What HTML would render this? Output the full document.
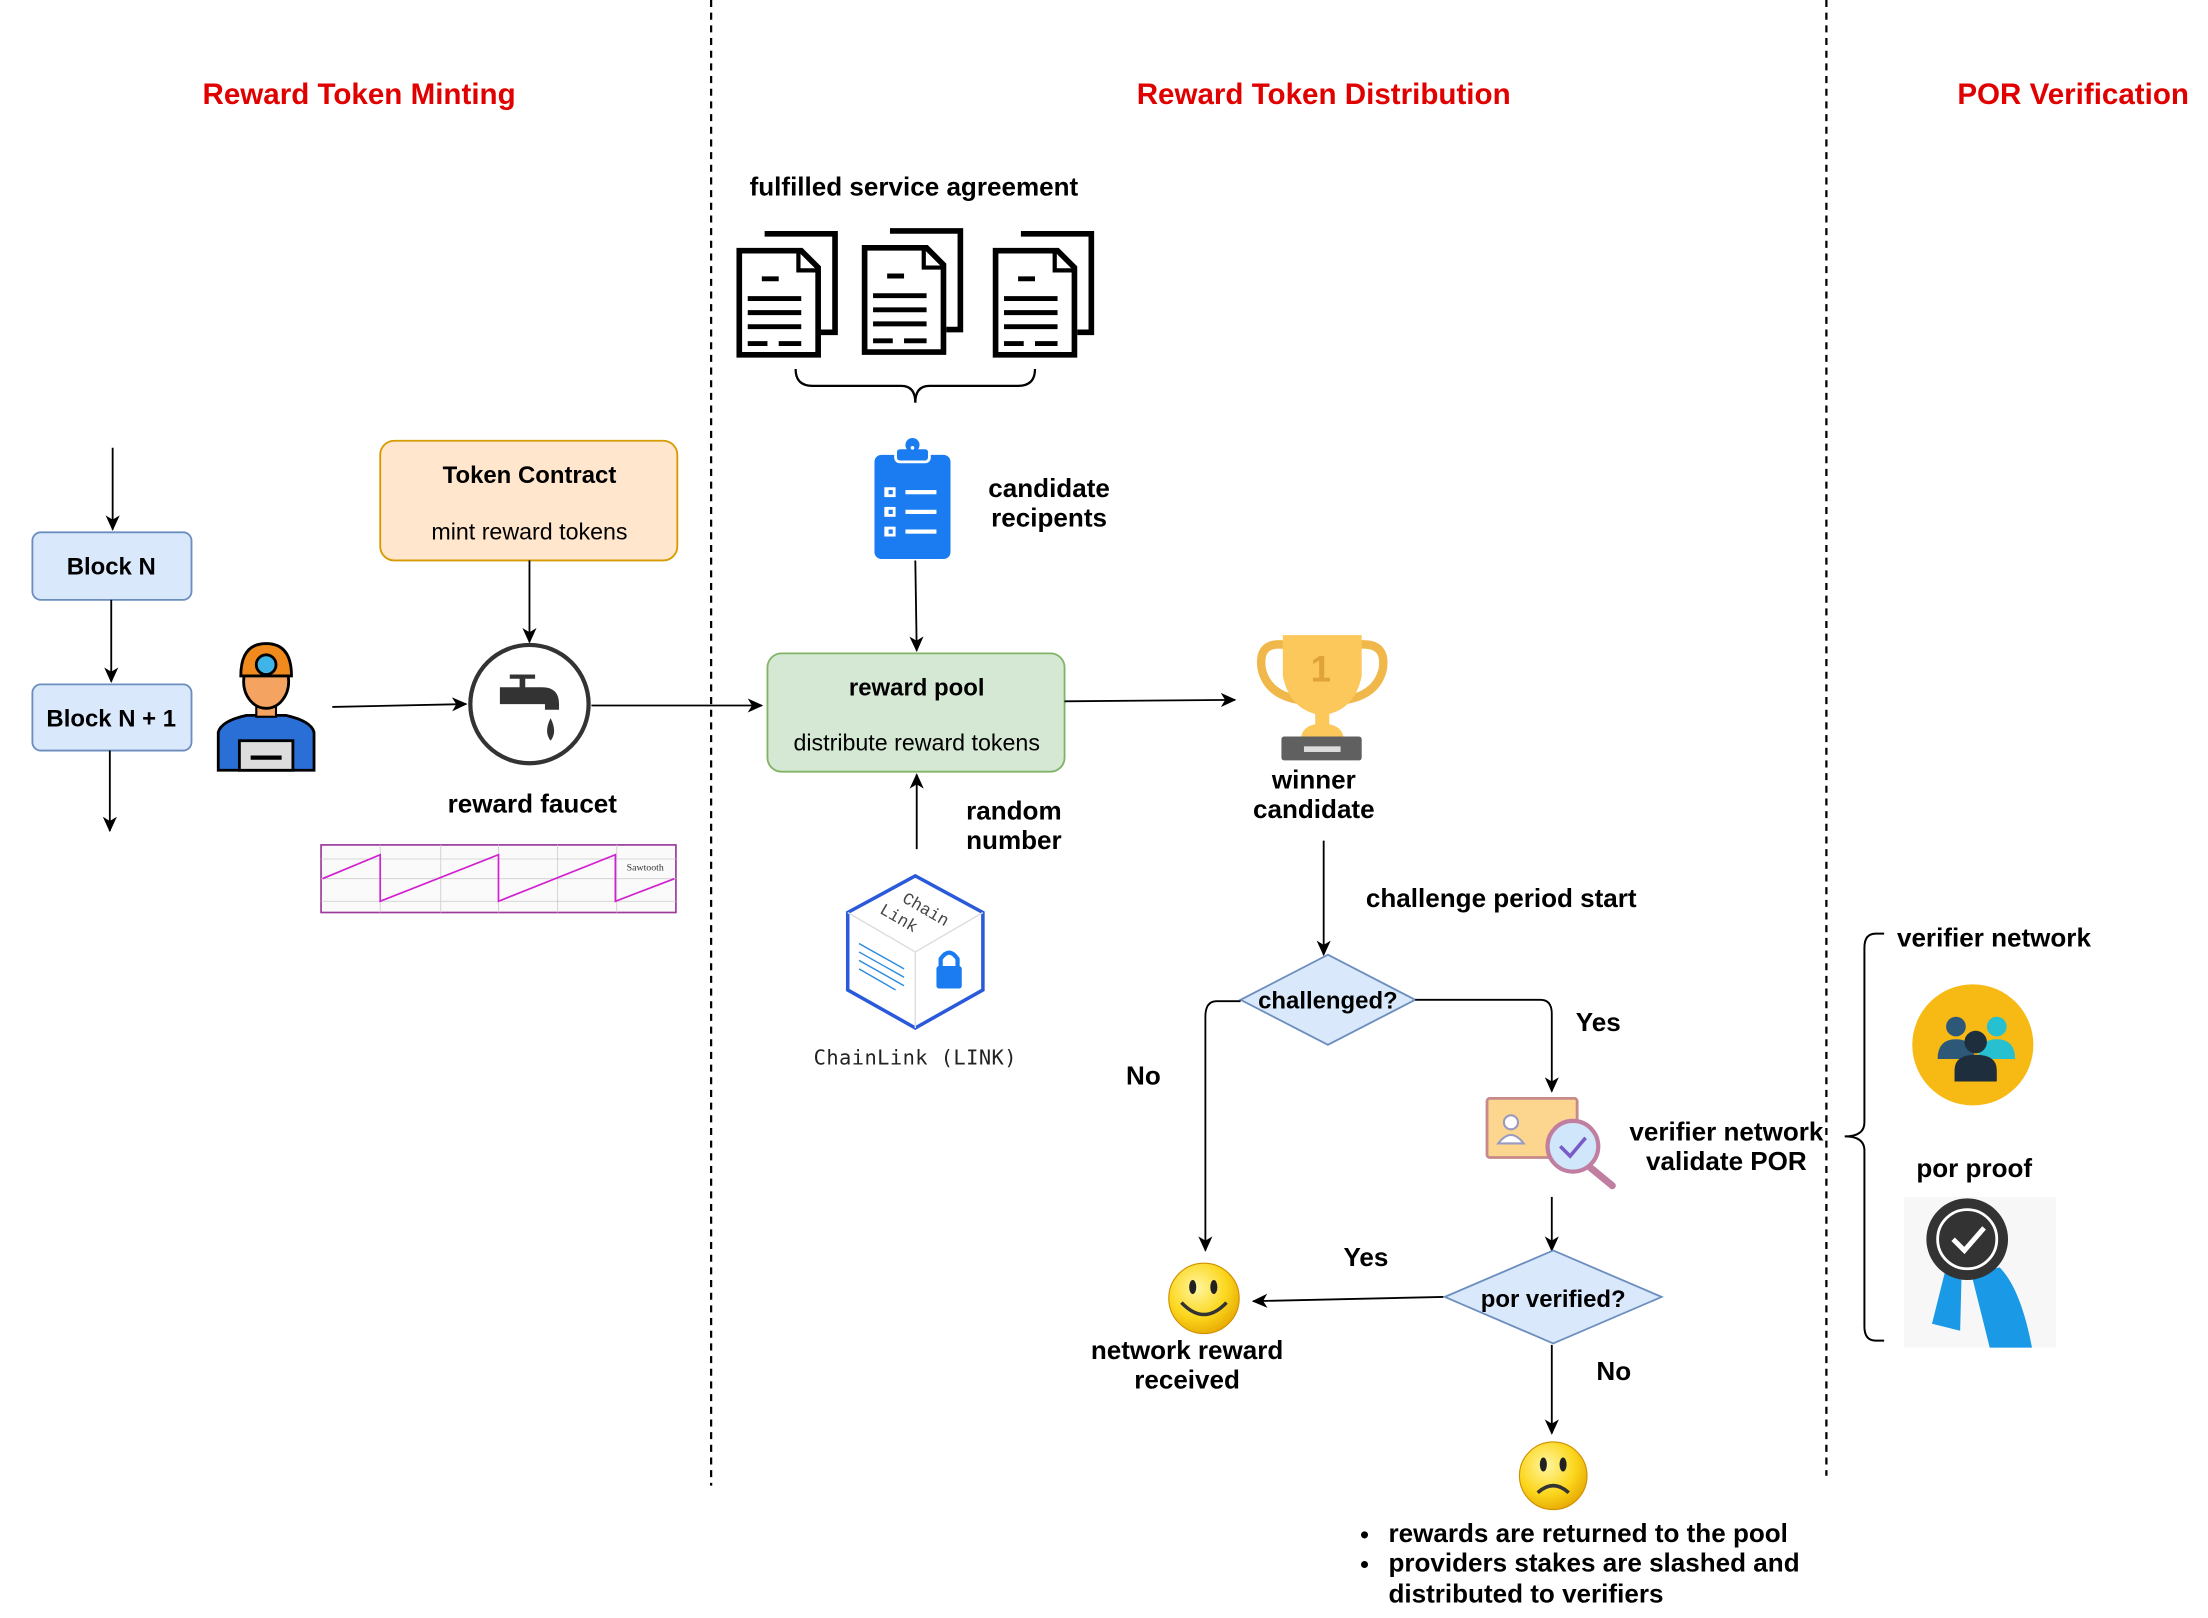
<!DOCTYPE html>
<html><head><meta charset="utf-8"><style>
html,body{margin:0;padding:0;background:#fff;}
svg{display:block;}
text{font-family:"Liberation Sans",Arial,sans-serif;}
.b{font-weight:bold;font-size:18.5px;fill:#000;}
.t{font-weight:bold;font-size:21px;fill:#e00000;}
.n{font-size:16.5px;fill:#000;}
</style></head><body>
<svg width="2208" height="1618" viewBox="0 0 1568 1149" preserveAspectRatio="none" xmlns="http://www.w3.org/2000/svg">
<defs>
<marker id="ar" markerWidth="12" markerHeight="12" refX="10" refY="6" orient="auto" markerUnits="userSpaceOnUse">
<path d="M0,1 L11,6 L0,11 L3,6 Z" fill="#000"/></marker>
<g id="doc">
<path d="M20,0 H70 V70 H60" fill="#fff" stroke="#000" stroke-width="4"/>
<path d="M2,12 H46 L58,24 V86 H2 Z" fill="#fff" stroke="#000" stroke-width="4"/>
<path d="M44,12 V26 H58" fill="none" stroke="#000" stroke-width="3"/>
<g stroke="#000" stroke-width="3.5"><line x1="18" y1="32" x2="30" y2="32"/><line x1="8" y1="46" x2="46" y2="46"/><line x1="8" y1="56" x2="46" y2="56"/><line x1="8" y1="66" x2="46" y2="66"/><line x1="8" y1="78" x2="22" y2="78"/><line x1="30" y1="78" x2="46" y2="78"/></g>
</g>
<radialGradient id="sm" cx="0.4" cy="0.35" r="0.7"><stop offset="0" stop-color="#fff6a0"/><stop offset="0.6" stop-color="#fcd71e"/><stop offset="1" stop-color="#e6a700"/></radialGradient>
</defs>
<rect width="1568" height="1149" fill="#fff"/>
<line x1="505" y1="0" x2="505" y2="1055" stroke="#000" stroke-width="1.6" stroke-dasharray="5,4"/>
<line x1="1297" y1="0" x2="1297" y2="1048" stroke="#000" stroke-width="1.6" stroke-dasharray="5,4"/>
<text class="t" x="255" y="74" text-anchor="middle">Reward Token Minting</text>
<text class="t" x="940" y="74" text-anchor="middle">Reward Token Distribution</text>
<text class="t" x="1390" y="74">POR Verification</text>

<line x1="80" y1="318" x2="80" y2="376" stroke="#000" stroke-width="1.3" marker-end="url(#ar)"/>
<rect x="23" y="378" width="113" height="48" rx="6" fill="#dae8fc" stroke="#6c8ebf" stroke-width="1.3"/>
<text class="b" x="79" y="408" text-anchor="middle" style="font-size:17px">Block N</text>
<line x1="79" y1="426" x2="79" y2="484" stroke="#000" stroke-width="1.3" marker-end="url(#ar)"/>
<rect x="23" y="486" width="113" height="47" rx="6" fill="#dae8fc" stroke="#6c8ebf" stroke-width="1.3"/>
<text class="b" x="79" y="516" text-anchor="middle" style="font-size:17px">Block N + 1</text>
<line x1="78" y1="533" x2="78" y2="590" stroke="#000" stroke-width="1.3" marker-end="url(#ar)"/>

<g>
<path d="M155,520 Q157,512 175,508 L203,508 Q221,512 223,520 V547 H155 Z" fill="#2a6fd6" stroke="#000" stroke-width="2"/>
<rect x="170" y="526" width="38" height="21" fill="#ddd" stroke="#000" stroke-width="2"/>
<line x1="178" y1="538" x2="200" y2="538" stroke="#000" stroke-width="3"/>
<rect x="182" y="495" width="14" height="14" fill="#f4a460" stroke="#000" stroke-width="1.5"/>
<ellipse cx="189" cy="484" rx="16" ry="19" fill="#f4a460" stroke="#000" stroke-width="2"/>
<path d="M171,480 Q171,457 189,457 Q207,457 207,480 Z" fill="#f08a1c" stroke="#000" stroke-width="2"/>
<circle cx="189" cy="472" r="7" fill="#3fb4e8" stroke="#000" stroke-width="2"/>
</g>
<line x1="236" y1="502" x2="331" y2="500" stroke="#000" stroke-width="1.3" marker-end="url(#ar)"/>

<rect x="270" y="313" width="211" height="85" rx="10" fill="#ffe6cc" stroke="#d79b00" stroke-width="1.3"/>
<text class="b" x="376" y="343" text-anchor="middle" style="font-size:17px">Token Contract</text>
<text class="n" x="376" y="383" text-anchor="middle">mint reward tokens</text>
<line x1="376" y1="398" x2="376" y2="456" stroke="#000" stroke-width="1.3" marker-end="url(#ar)"/>

<circle cx="376" cy="500" r="42" fill="#fff" stroke="#333" stroke-width="3"/>
<path d="M355,488 H385 Q397,488 397,500 V504 H387 V500 H355 Z" fill="#333"/>
<rect x="369" y="481" width="4" height="8" fill="#333"/><rect x="362" y="479" width="18" height="3" fill="#333"/>
<path d="M391,510 Q386,520 391,526 Q396,520 391,510 Z" fill="#333"/>
<line x1="420" y1="501" x2="541" y2="501" stroke="#000" stroke-width="1.3" marker-end="url(#ar)"/>
<text class="b" x="378" y="577" text-anchor="middle">reward faucet</text>

<rect x="228" y="600" width="252" height="48" fill="#fafafa" stroke="#9b3b9b" stroke-width="1.2"/>
<g stroke="#ccc" stroke-width="0.6"><line x1="228" y1="610" x2="480" y2="610"/><line x1="228" y1="624" x2="480" y2="624"/><line x1="228" y1="640" x2="480" y2="640"/><line x1="270" y1="600" x2="270" y2="648"/><line x1="313" y1="600" x2="313" y2="648"/><line x1="354" y1="600" x2="354" y2="648"/><line x1="396" y1="600" x2="396" y2="648"/><line x1="438" y1="600" x2="438" y2="648"/></g>
<polyline points="229,624 270,607 270,640 354,607 354,640 437,607 437,640 479,624" fill="none" stroke="#d020d0" stroke-width="1.2"/>
<text x="445" y="618" style="font-family:'Liberation Serif',serif;font-size:7px" fill="#333">Sawtooth</text>

<text class="b" x="649" y="139" text-anchor="middle">fulfilled service agreement</text>
<use href="#doc" x="523" y="166"/>
<use href="#doc" x="612" y="164"/>
<use href="#doc" x="705" y="166"/>
<path d="M565,262 Q565,274 577,274 H640 Q650,274 650,286 Q650,274 660,274 H723 Q735,274 735,262" fill="none" stroke="#000" stroke-width="1.6"/>

<rect x="621" y="323" width="54" height="74" rx="5" fill="#1a7cf0"/>
<rect x="636" y="318" width="24" height="10" rx="3" fill="#1a7cf0" stroke="#fff" stroke-width="2"/>
<circle cx="648" cy="316" r="5" fill="#1a7cf0"/><circle cx="648" cy="318" r="1.3" fill="#fff"/>
<g fill="#fff"><rect x="628" y="346" width="8" height="7"/><rect x="628" y="360" width="8" height="7"/><rect x="628" y="374" width="8" height="7"/><rect x="643" y="348" width="22" height="3"/><rect x="643" y="362" width="22" height="3"/><rect x="643" y="376" width="22" height="3"/></g>
<g fill="#1a7cf0"><rect x="631" y="348" width="3" height="3"/><rect x="631" y="362" width="3" height="3"/><rect x="631" y="376" width="3" height="3"/></g>
<text class="b" x="745" y="353" text-anchor="middle">candidate</text>
<text class="b" x="745" y="374" text-anchor="middle">recipents</text>
<line x1="650" y1="398" x2="651" y2="462" stroke="#000" stroke-width="1.3" marker-end="url(#ar)"/>

<rect x="545" y="464" width="211" height="84" rx="10" fill="#d5e8d4" stroke="#82b366" stroke-width="1.3"/>
<text class="b" x="651" y="494" text-anchor="middle" style="font-size:17px">reward pool</text>
<text class="n" x="651" y="533" text-anchor="middle">distribute reward tokens</text>
<line x1="651" y1="603" x2="651" y2="550" stroke="#000" stroke-width="1.3" marker-end="url(#ar)"/>
<text class="b" x="720" y="582" text-anchor="middle">random</text>
<text class="b" x="720" y="603" text-anchor="middle">number</text>
<line x1="756" y1="498" x2="877" y2="497" stroke="#000" stroke-width="1.3" marker-end="url(#ar)"/>

<path d="M650,622 L698,648 L698,703 L650,730 L602,703 L602,648 Z" fill="#fff" stroke="#2a5ada" stroke-width="2.5"/>
<path d="M602,648 L650,676 L698,648 M650,676 V730" fill="none" stroke="#ddd" stroke-width="1"/>
<text x="640" y="640" transform="rotate(30 640 640)" style="font-family:'Liberation Mono',monospace;font-size:12px" fill="#444">Chain</text>
<text x="624" y="648" transform="rotate(30 624 648)" style="font-family:'Liberation Mono',monospace;font-size:12px" fill="#444">Link</text>
<g stroke="#2a8ae0" stroke-width="1"><line x1="610" y1="670" x2="642" y2="688"/><line x1="610" y1="676" x2="642" y2="694"/><line x1="610" y1="682" x2="642" y2="700"/><line x1="610" y1="688" x2="636" y2="703"/></g>
<rect x="665" y="686" width="18" height="16" rx="2" fill="#1a7cf0"/>
<path d="M668,687 V681 Q674,672 680,681 V687" fill="none" stroke="#1a7cf0" stroke-width="3"/>
<text x="650" y="756" text-anchor="middle" style="font-family:'DejaVu Sans Mono',monospace;font-size:14.5px;letter-spacing:0.3px" fill="#222">ChainLink (LINK)</text>

<path d="M913,458 Q893,455 896,475 Q900,493 922,497" fill="none" stroke="#f0b84a" stroke-width="6"/>
<path d="M963,458 Q985,455 982,475 Q978,493 956,497" fill="none" stroke="#f0b84a" stroke-width="6"/>
<path d="M911,451 H967 V480 Q962,505 939,508 Q916,505 911,480 Z" fill="#fcc75b"/>
<text x="938" y="484" text-anchor="middle" style="font-weight:bold;font-size:26px" fill="#e0a33a">1</text>
<rect x="934" y="505" width="10" height="10" fill="#fcc75b"/>
<path d="M924,523 Q926,514 939,514 Q952,514 954,523 Z" fill="#fcc75b"/>
<rect x="910" y="523" width="57" height="17" rx="2" fill="#606060"/>
<rect x="926" y="530" width="26" height="4" fill="#ddd"/>
<text class="b" x="933" y="560" text-anchor="middle">winner</text>
<text class="b" x="933" y="581" text-anchor="middle">candidate</text>

<line x1="940" y1="597" x2="940" y2="678" stroke="#000" stroke-width="1.3" marker-end="url(#ar)"/>
<text class="b" x="970" y="644">challenge period start</text>

<path d="M943,678 L1005,710 L943,742 L881,710 Z" fill="#dae8fc" stroke="#6c8ebf" stroke-width="1.3"/>
<text class="b" x="943" y="716" text-anchor="middle" style="font-size:17px">challenged?</text>
<path d="M1005,710 H1094 Q1102,710 1102,720 V775" fill="none" stroke="#000" stroke-width="1.3" marker-end="url(#ar)"/>
<text class="b" x="1135" y="732" text-anchor="middle">Yes</text>
<path d="M881,711 H864 Q856,711 856,722 V888" fill="none" stroke="#000" stroke-width="1.3" marker-end="url(#ar)"/>
<text class="b" x="812" y="770" text-anchor="middle">No</text>

<rect x="1056" y="780" width="64" height="42" rx="2" fill="#fcd58f" stroke="#c78a8a" stroke-width="2"/>
<circle cx="1073" cy="797" r="5" fill="#fff" stroke="#9a9ac0" stroke-width="1.5"/>
<path d="M1064,812 Q1073,800 1082,812 Z" fill="#fff" stroke="#9a9ac0" stroke-width="1.5"/>
<line x1="1128" y1="828" x2="1145" y2="842" stroke="#c07ea0" stroke-width="5" stroke-linecap="round"/>
<circle cx="1117" cy="814" r="18" fill="#cfe6fb" stroke="#c07ea0" stroke-width="3"/>
<path d="M1108,814 L1115,821 L1126,808" fill="none" stroke="#7a5ac8" stroke-width="2.5"/>
<text class="b" x="1226" y="810" text-anchor="middle">verifier network</text>
<text class="b" x="1226" y="831" text-anchor="middle">validate POR</text>
<line x1="1102" y1="850" x2="1102" y2="888" stroke="#000" stroke-width="1.3" marker-end="url(#ar)"/>

<path d="M1103,888 L1180,921 L1103,954 L1026,921 Z" fill="#dae8fc" stroke="#6c8ebf" stroke-width="1.3"/>
<text class="b" x="1103" y="928" text-anchor="middle" style="font-size:17px">por verified?</text>
<line x1="1025" y1="921" x2="890" y2="924" stroke="#000" stroke-width="1.3" marker-end="url(#ar)"/>
<text class="b" x="970" y="899" text-anchor="middle">Yes</text>
<line x1="1102" y1="955" x2="1102" y2="1018" stroke="#000" stroke-width="1.3" marker-end="url(#ar)"/>
<text class="b" x="1146" y="980" text-anchor="middle">No</text>

<circle cx="855" cy="922" r="25" fill="url(#sm)" stroke="#d09000" stroke-width="0.8"/>
<ellipse cx="847" cy="914" rx="2.5" ry="5" fill="#222"/><ellipse cx="862" cy="914" rx="2.5" ry="5" fill="#222"/>
<path d="M839,925 Q855,942 871,925" fill="none" stroke="#333" stroke-width="2.5"/>
<text class="b" x="843" y="965" text-anchor="middle">network reward</text>
<text class="b" x="843" y="986" text-anchor="middle">received</text>

<circle cx="1103" cy="1048" r="24" fill="url(#sm)" stroke="#d09000" stroke-width="0.8"/>
<ellipse cx="1096" cy="1040" rx="2.5" ry="5" fill="#222"/><ellipse cx="1110" cy="1040" rx="2.5" ry="5" fill="#222"/>
<path d="M1092,1060 Q1103,1050 1114,1060" fill="none" stroke="#333" stroke-width="2.5"/>
<circle cx="969" cy="1090" r="2.5" fill="#000"/>
<circle cx="969" cy="1111" r="2.5" fill="#000"/>
<text class="b" x="986" y="1095">rewards are returned to the pool</text>
<text class="b" x="986" y="1116">providers stakes are slashed and</text>
<text class="b" x="986" y="1138">distributed to verifiers</text>

<path d="M1338,663 H1332 Q1324,663 1324,673 V797 Q1324,807 1310,807 Q1324,807 1324,817 V942 Q1324,952 1332,952 H1338" fill="none" stroke="#000" stroke-width="1.4"/>
<text class="b" x="1416" y="672" text-anchor="middle">verifier network</text>
<circle cx="1401" cy="742" r="43" fill="#f7b914"/>
<circle cx="1389" cy="729" r="7" fill="#2e5878"/><path d="M1376,752 Q1376,738 1389,738 Q1402,738 1402,752 Z" fill="#2e5878"/>
<circle cx="1418" cy="729" r="7" fill="#26c0d0"/><path d="M1405,752 Q1405,738 1418,738 Q1431,738 1431,752 Z" fill="#26c0d0"/>
<circle cx="1403" cy="740" r="8" fill="#1e2e3c"/><path d="M1388,768 V760 Q1388,749 1403,749 Q1418,749 1418,760 V768 Z" fill="#1e2e3c"/>
<text class="b" x="1402" y="836" text-anchor="middle">por proof</text>
<rect x="1352" y="850" width="108" height="107" fill="#f7f7f7"/>
<path d="M1383,896 L1372,940 L1392,945 L1393,905 Z" fill="#1a9ae6"/>
<path d="M1400,905 L1413,957 L1443,957 Q1435,915 1420,900 Z" fill="#1a9ae6"/>
<circle cx="1397" cy="880" r="29" fill="#333"/>
<circle cx="1397" cy="880" r="21" fill="#333" stroke="#fff" stroke-width="2"/>
<path d="M1387,880 L1395,888 L1409,872" fill="none" stroke="#fff" stroke-width="3.5"/>
</svg>
</body></html>
